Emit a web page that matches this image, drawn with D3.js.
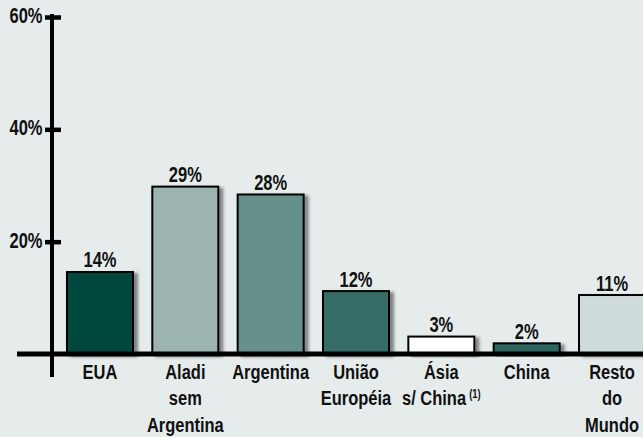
<!DOCTYPE html>
<html>
<head>
<meta charset="utf-8">
<script src="https://cdn.jsdelivr.net/npm/d3@7"></script>
<style>
  html, body { margin: 0; padding: 0; background: #E6ECEC; }
  svg { display: block; }
  text { font-family: "Liberation Sans", Arial, sans-serif; font-weight: bold; fill: #111; }
</style>
</head>
<body>
<svg id="chart" width="643" height="437"></svg>
<script>
// ---- data ----
const categories = ["EUA", "Aladi sem Argentina", "Argentina", "União Européia", "Ásia s/ China", "China", "Resto do Mundo"];
const categoryLines = [["EUA"], ["Aladi", "sem", "Argentina"], ["Argentina"], ["União", "Européia"], ["Ásia", "s/ China"], ["China"], ["Resto", "do", "Mundo"]];
const values = [14.6, 29.8, 28.4, 11.2, 3.1, 1.9, 10.5];
const valueLabels = ["14%", "29%", "28%", "12%", "3%", "2%", "11%"];
const barColors = ["#00463C", "#9BB4B0", "#66908A", "#346C65", "#FFFFFF", "#2E665F", "#D0DCDB"];
const yTicks = [20, 40, 60];
const yTickLabels = ["20%", "40%", "60%"];

const svg = d3.select("#chart");

const defs = svg.append("defs");
const f = defs.append("filter").attr("id", "shadow").attr("x", "-10%").attr("y", "-10%").attr("width", "130%").attr("height", "130%");
f.append("feDropShadow").attr("dx", 4).attr("dy", 2).attr("stdDeviation", 1.8)
  .attr("flood-color", "#333").attr("flood-opacity", 0.55);

const x = d3.scaleBand().domain(categories).range([57.3, 654.7]).paddingInner(0.2265).paddingOuter(0.11325);
const y = d3.scaleLinear().domain([0, 60]).range([354, 17]);

// bars
svg.append("g").selectAll("rect").data(categories).join("rect")
  .attr("x", d => x(d))
  .attr("y", (d, i) => y(values[i]))
  .attr("width", x.bandwidth())
  .attr("height", (d, i) => y(0) - y(values[i]))
  .attr("fill", (d, i) => barColors[i])
  .attr("stroke", "#000")
  .attr("stroke-width", 2)
  .attr("filter", "url(#shadow)");

// value labels (condensed via horizontal scale)
svg.append("g").selectAll("g").data(categories).join("g")
  .attr("transform", (d, i) => `translate(${x(d) + x.bandwidth() / 2},${y(values[i]) - 4.5}) scale(0.75,1)`)
  .append("text")
  .attr("text-anchor", "middle")
  .style("font-size", "22px")
  .text((d, i) => valueLabels[i]);

// x axis line
svg.append("line").attr("x1", 17).attr("x2", 643).attr("y1", y(0)).attr("y2", y(0))
  .attr("stroke", "#000").attr("stroke-width", 5);

// y axis
const yAxis = d3.axisLeft(y).tickValues(yTicks).tickSize(0).tickFormat((d, i) => yTickLabels[i]);
const ga = svg.append("g").attr("transform", "translate(52,0)").call(yAxis);
ga.select(".domain").remove();
ga.selectAll("text")
  .attr("x", 0).attr("dy", "0.3em")
  .attr("transform", "translate(-9.5,-1) scale(0.75,1)")
  .style("font-size", "22px").style("font-family", null).attr("fill", "#111");
ga.selectAll(".tick").append("line").attr("x1", -7).attr("x2", 9).attr("y1", 0).attr("y2", 0)
  .attr("stroke", "#000").attr("stroke-width", 4.5);
svg.append("line").attr("x1", 52).attr("x2", 52).attr("y1", 14).attr("y2", 377)
  .attr("stroke", "#000").attr("stroke-width", 4);

// category labels
const cg = svg.append("g").selectAll("g").data(categories).join("g")
  .attr("transform", d => `translate(${x(d) + x.bandwidth() / 2},0) scale(0.785,1)`);
cg.each(function(d, i) {
  const t = d3.select(this).append("text").attr("text-anchor", "middle").style("font-size", "21px");
  categoryLines[i].forEach((line, j) => {
    t.append("tspan").attr("x", 0).attr("y", 379 + j * 26.5).text(line);
  });
  if (d === "Ásia s/ China") {
    t.select("tspan:last-child").append("tspan").attr("dx", 4).attr("dy", -7).style("font-size", "12px").text("(1)");
  }
});
</script>
</body>
</html>
